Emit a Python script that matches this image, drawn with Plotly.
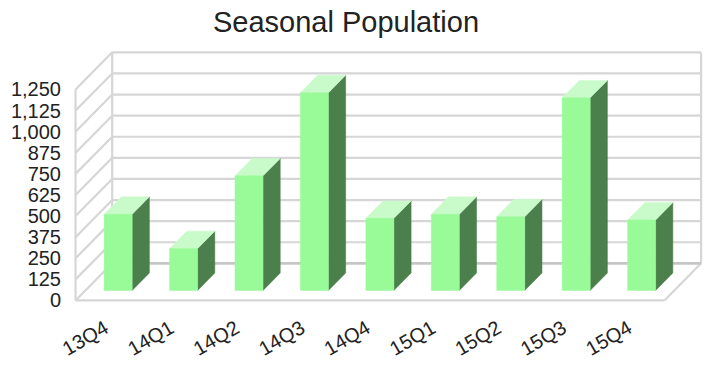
import plotly.graph_objects as go

# Quarterly population figures
quarters = ["13Q4", "14Q1", "14Q2", "14Q3", "14Q4", "15Q1", "15Q2", "15Q3", "15Q4"]
population = [451, 248, 679, 1171, 427, 451, 437, 1141, 417]
y_ticks = [0, 125, 250, 375, 500, 625, 750, 875, 1000, 1125, 1250]
y_tick_labels = [f"{v:,}" for v in y_ticks]

# Pseudo-3D box geometry (data units)
DX = 0.56          # depth offset along x (category units)
DY = 220           # depth offset along y (value units)
D_FRONT = 0.27     # bar front face depth fraction
D_BACK = 0.74      # bar back face depth fraction
HALF_W = 0.214     # half width of a bar's front face
LABEL_SHIFT = -0.05  # category label anchor relative to the front-plane centre
Y_TOP = y_ticks[-1]
N = len(quarters)
X_L, X_R = -0.5, N - 0.5

FRONT_C = "#98FB98"
TOP_C = "#C9FAC9"
SIDE_C = "#4B7F4B"
GRID_C = "#d6d6d6"

fig = go.Figure()


def add_lines(segments, color, width):
    xs, ys = [], []
    for (x0, y0), (x1, y1) in segments:
        xs += [x0, x1, None]
        ys += [y0, y1, None]
    fig.add_trace(go.Scatter(x=xs, y=ys, mode="lines",
                             line=dict(color=color, width=width),
                             hoverinfo="skip", showlegend=False))


def add_polys(polys, color):
    xs, ys = [], []
    for poly in polys:
        for x, y in poly:
            xs.append(x)
            ys.append(y)
        xs.append(poly[0][0])
        ys.append(poly[0][1])
        xs.append(None)
        ys.append(None)
    fig.add_trace(go.Scatter(x=xs, y=ys, mode="lines", fill="toself",
                             fillcolor=color, line=dict(color=color, width=0.5),
                             hoverinfo="skip", showlegend=False))


# Walls: back-wall gridlines, left-wall diagonals, edges and floor outline
grid = []
for v in y_ticks[1:]:
    grid.append(((X_L + DX, v + DY), (X_R + DX, v + DY)))
    grid.append(((X_L, v), (X_L + DX, v + DY)))
grid.append(((X_L, 0), (X_L, Y_TOP)))
grid.append(((X_L + DX, DY), (X_L + DX, Y_TOP + DY)))
grid.append(((X_R + DX, DY), (X_R + DX, Y_TOP + DY)))
grid.append(((X_L, 0), (X_R, 0)))
grid.append(((X_R, 0), (X_R + DX, DY)))
grid.append(((X_L, 0), (X_L + DX, DY)))
add_lines(grid, GRID_C, 2.2)
add_lines([((X_L + DX, DY), (X_R + DX, DY))], "#c6c6c6", 2.6)

# Bars: front faces, tops and right-hand sides
fronts, tops, sides = [], [], []
for i, v in enumerate(population):
    xl = i - HALF_W
    xr = i + HALF_W
    fx, fy = D_FRONT * DX, D_FRONT * DY
    bx, by = D_BACK * DX, D_BACK * DY
    fronts.append([(xl + fx, fy), (xr + fx, fy), (xr + fx, fy + v), (xl + fx, fy + v)])
    tops.append([(xl + fx, fy + v), (xr + fx, fy + v), (xr + bx, by + v), (xl + bx, by + v)])
    sides.append([(xr + fx, fy), (xr + bx, by), (xr + bx, by + v), (xr + fx, fy + v)])
add_polys(sides, SIDE_C)
add_polys(tops, TOP_C)
add_polys(fronts, FRONT_C)

# Pixel layout of the plotting area
W, H = 710, 371
PX_X = 65.4        # pixels per category
PX_Y = 0.1685      # pixels per value unit
X_FRONT_PX = 76    # pixel x of the front-left corner
Y_FRONT_PX = 300   # pixel y of the front floor edge
x_range = [X_L - 0.1, X_R + DX + 0.06]
y_range = [-15, Y_TOP + DY + 8]
left = X_FRONT_PX - (X_L - x_range[0]) * PX_X
right = W - (left + (x_range[1] - x_range[0]) * PX_X)
bottom = H - (Y_FRONT_PX + (0 - y_range[0]) * PX_Y)
top = H - bottom - (y_range[1] - y_range[0]) * PX_Y

font_family = "Liberation Sans, Arial, sans-serif"
fig.update_layout(
    width=W, height=H,
    margin=dict(l=left, r=right, t=top, b=bottom, pad=0),
    paper_bgcolor="white", plot_bgcolor="white",
    title=dict(text="Seasonal Population", x=346 / W, xref="container",
               xanchor="center", y=1 - 22 / H, yref="container", yanchor="middle",
               font=dict(family=font_family, size=29, color="#222222")),
    xaxis=dict(range=x_range, tickvals=[i + LABEL_SHIFT for i in range(N)],
               ticktext=quarters,
               tickangle=-30, showgrid=False, zeroline=False, showline=False,
               ticks="", ticklabelstandoff=9,
               tickfont=dict(family=font_family, size=20, color="#222222")),
    yaxis=dict(range=y_range, tickvals=y_ticks, ticktext=y_tick_labels,
               showgrid=False, zeroline=False, showline=False, ticks="",
               ticklabelstandoff=7,
               tickfont=dict(family=font_family, size=20, color="#222222")),
)

fig.write_html("out.html")
